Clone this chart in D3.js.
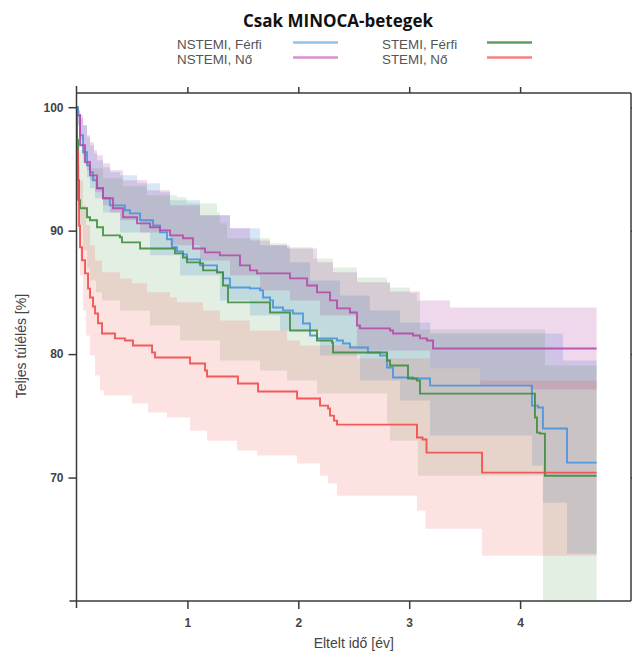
<!DOCTYPE html>
<html>
<head>
<meta charset="utf-8">
<script src="https://cdn.jsdelivr.net/npm/d3@7"></script>
<style>
  body { margin: 0; background: #fff; }
  svg { display: block; }
</style>
</head>
<body>
<svg id="chart" width="632" height="653"></svg>
<script>
// ---- data ----
var seriesNames = ["NSTEMI, Férfi", "NSTEMI, Nő", "STEMI, Férfi", "STEMI, Nő"];
var lineColors = ["#4a93dc", "#b64aa9", "#3f8d3f", "#f24a4a"];
var bandOpacity = [0.22, 0.22, 0.14, 0.16];
var legendColors = ["#92c2ec", "#d690cc", "#5f9f5f", "#f48282"];
var xTicks = [1, 2, 3, 4];
var yTicks = [70, 80, 90, 100];
var tEnd = 4.69;

// survival steps [time in years, %]
var nstemiFerfi = [[0,100],[0.014,99.35],[0.032,97.73],[0.059,96.35],[0.095,95.3],[0.122,94.73],[0.149,94.08],[0.185,93.43],[0.239,92.62],[0.302,92.05],[0.437,91.65],[0.482,91.4],[0.573,90.84],[0.69,90.43],[0.753,89.86],[0.816,89.3],[0.861,88.65],[0.906,88.32],[0.96,88.08],[0.996,87.67],[1.114,87.19],[1.267,86.62],[1.321,86.13],[1.384,85.4],[1.564,85.32],[1.655,85.16],[1.682,84.59],[1.745,84.35],[1.772,83.78],[1.862,83.54],[1.952,83.29],[2.042,82.48],[2.106,81.51],[2.169,81.27],[2.349,81.1],[2.403,80.86],[2.466,80.54],[2.628,80.13],[2.737,79.89],[2.8,78.91],[2.854,78.1],[3.034,78.02],[3.188,77.45],[4.107,75.83],[4.161,75.67],[4.206,73.97],[4.423,71.21]];
var nstemiNo = [[0,100],[0.005,99.35],[0.032,96.92],[0.077,95.54],[0.122,94.48],[0.185,93.43],[0.239,92.62],[0.329,91.81],[0.419,91.08],[0.546,90.59],[0.663,90.27],[0.753,90.02],[0.843,89.62],[0.96,89.38],[1.05,88.56],[1.159,88.24],[1.293,88.0],[1.474,87.19],[1.564,86.78],[1.628,86.54],[1.925,86.13],[2.079,85.56],[2.169,85.0],[2.286,84.35],[2.349,83.7],[2.466,83.37],[2.529,82.32],[2.556,82.08],[2.827,81.91],[2.854,81.67],[3.034,81.51],[3.097,81.27],[3.16,81.1],[3.215,80.45]];
var stemiFerfi = [[0,100],[0.005,97.32],[0.014,94.08],[0.023,92.46],[0.032,91.81],[0.095,91.08],[0.122,90.84],[0.185,90.27],[0.239,89.62],[0.392,89.46],[0.41,89.05],[0.573,88.56],[0.888,88.16],[0.96,87.83],[0.996,87.43],[1.114,87.35],[1.141,86.78],[1.267,86.62],[1.321,85.56],[1.366,84.19],[1.745,83.37],[1.925,81.91],[2.169,81.1],[2.304,80.94],[2.313,80.13],[2.8,79.48],[2.827,79.08],[2.989,78.02],[3.07,77.86],[3.097,76.8],[4.134,74.86],[4.152,73.64],[4.179,73.56],[4.224,70.15]];
var stemiNo = [[0,100],[0.005,96.5],[0.014,92.5],[0.023,90.4],[0.032,88.65],[0.05,87.6],[0.077,86.54],[0.104,85.3],[0.122,84.59],[0.149,83.86],[0.167,83.29],[0.194,82.5],[0.23,81.67],[0.347,81.27],[0.437,81.1],[0.509,80.7],[0.681,80.13],[0.708,79.72],[1.024,79.24],[1.159,78.67],[1.177,78.18],[1.456,77.62],[1.637,76.97],[1.989,76.4],[2.196,75.83],[2.268,75.59],[2.286,75.02],[2.322,74.61],[2.349,74.29],[3.07,73.24],[3.12,73.08],[3.156,72.02],[3.657,70.4]];

// confidence band bounds [time, %]
var nstemiFerfiHi = [[0,100],[0.014,99.76],[0.032,99.1],[0.059,98.54],[0.095,97.57],[0.122,96.92],[0.158,96.27],[0.185,95.7],[0.239,95.13],[0.302,94.73],[0.392,94.48],[0.546,93.84],[0.753,93.11],[0.843,92.46],[1.114,91.24],[1.384,90.19],[1.655,88.81],[1.925,87.43],[2.106,85.97],[2.376,84.75],[2.646,83.54],[2.917,82.56],[3.188,81.67],[4.387,79.48]];
var nstemiFerfiLo = [[0,100],[0.014,98.54],[0.032,96.92],[0.059,95.54],[0.095,94.32],[0.122,93.43],[0.167,92.62],[0.239,91.48],[0.392,89.86],[0.663,88.0],[0.933,86.37],[1.293,84.35],[1.564,83.13],[1.835,81.91],[2.196,79.89],[2.556,77.86],[2.917,76.24],[3.188,73.4],[4.107,70.97],[4.206,67.96],[4.423,63.83]];
var nstemiNoHi = [[0,100],[0.014,99.76],[0.032,99.35],[0.059,98.54],[0.095,97.73],[0.122,97.16],[0.158,96.51],[0.185,96.11],[0.239,95.46],[0.302,94.89],[0.419,94.08],[0.636,93.27],[0.843,92.05],[1.114,91.24],[1.384,90.19],[1.564,89.21],[1.745,88.81],[1.898,88.56],[2.169,87.43],[2.313,86.62],[2.529,85.82],[2.827,85.08],[3.097,84.35],[3.368,83.78]];
var nstemiNoLo = [[0,100],[0.014,98.54],[0.032,97.32],[0.059,96.11],[0.095,94.89],[0.122,94.08],[0.167,93.11],[0.239,92.05],[0.302,91.48],[0.392,90.84],[0.573,89.86],[0.843,88.81],[1.114,87.59],[1.384,86.37],[1.655,85.16],[1.925,84.35],[2.196,83.13],[2.529,80.29],[3.188,78.83],[3.639,77.45],[4.089,77.13]];
var stemiFerfiHi = [[0,100],[0.005,98.95],[0.014,97.73],[0.032,96.51],[0.077,95.7],[0.122,95.05],[0.239,94.24],[0.419,93.59],[0.636,92.86],[0.906,92.7],[0.996,92.21],[1.267,91.48],[1.293,90.59],[1.357,89.38],[1.745,88.97],[1.898,88.65],[2.133,87.75],[2.313,87.02],[2.529,86.21],[2.8,85.73],[2.827,85.4],[3.007,84.92],[3.07,84.35],[3.097,82.0],[4.224,79.08]];
var stemiFerfiLo = [[0,100],[0.005,96.51],[0.014,94.08],[0.023,92.05],[0.032,90.43],[0.059,88.4],[0.095,86.94],[0.122,85.97],[0.176,85.0],[0.23,84.35],[0.392,83.54],[0.663,82.32],[0.933,81.1],[1.293,79.48],[1.655,78.67],[1.898,77.86],[2.169,76.8],[2.8,74.37],[2.827,72.99],[3.079,70.15],[4.206,56]];
var stemiNoHi = [[0,100],[0.005,98.54],[0.014,96.92],[0.023,95.3],[0.032,94.08],[0.059,92.05],[0.086,90.43],[0.122,88.81],[0.167,87.59],[0.23,86.62],[0.392,86.13],[0.5,85.73],[0.636,85.0],[0.843,84.59],[0.906,84.19],[1.141,83.54],[1.293,82.73],[1.564,81.91],[1.898,81.1],[2.015,80.7],[2.529,79.65],[3.188,78.83],[3.639,77.86]];
var stemiNoLo = [[0,100],[0.005,94.89],[0.014,91.65],[0.023,88.81],[0.032,86.37],[0.059,83.54],[0.086,81.51],[0.122,79.89],[0.167,78.26],[0.212,77.05],[0.248,76.64],[0.5,75.99],[0.645,75.26],[0.816,74.86],[1.024,73.8],[1.177,72.99],[1.447,72.18],[1.628,71.78],[1.989,71.13],[2.196,70.15],[2.268,69.51],[2.349,68.53],[3.07,67.32],[3.147,65.86],[3.657,63.67]];

var curves = [nstemiFerfi, nstemiNo, stemiFerfi, stemiNo];
var bandsHi = [nstemiFerfiHi, nstemiNoHi, stemiFerfiHi, stemiNoHi];
var bandsLo = [nstemiFerfiLo, nstemiNoLo, stemiFerfiLo, stemiNoLo];

// ---- layout ----
var margin = {top: 93, right: 1, bottom: 52, left: 76.5};
var width = 632 - margin.left - margin.right;
var height = 653 - margin.top - margin.bottom;

var svg = d3.select('#chart');
var chart = svg.append('g')
  .attr('transform', 'translate(' + margin.left + ',' + margin.top + ')');

var x = d3.scaleLinear().domain([0, 5]).range([0, width]);
var y = d3.scaleLinear().domain([60, 101.15]).range([height, 0]);

chart.append('clipPath').attr('id', 'plotclip')
  .append('rect').attr('width', width).attr('height', height);

// step value of a curve at time t
function stepAt(arr, t) {
  var v = arr[0][1];
  arr.forEach(function(p) { if (p[0] <= t) v = p[1]; });
  return v;
}
// put hi and lo on shared times so they can form one area
function bandRows(hi, lo) {
  var times = hi.map(function(p) { return p[0]; }).concat(lo.map(function(p) { return p[0]; }), [tEnd]);
  times = Array.from(new Set(times)).sort(d3.ascending);
  return times.map(function(t) { return {t: t, hi: stepAt(hi, t), lo: stepAt(lo, t)}; });
}

var area = d3.area()
  .curve(d3.curveStepAfter)
  .x(function(d) { return x(d.t); })
  .y0(function(d) { return y(d.lo); })
  .y1(function(d) { return y(d.hi); });

var line = d3.line()
  .curve(d3.curveStepAfter)
  .x(function(d) { return x(d[0]); })
  .y(function(d) { return y(d[1]); });

var plot = chart.append('g').attr('clip-path', 'url(#plotclip)');

plot.selectAll('.band')
  .data(d3.range(4))
  .enter()
  .append('path')
  .attr('class', 'band')
  .attr('d', function(i) { return area(bandRows(bandsHi[i], bandsLo[i])); })
  .attr('fill', function(i) { return lineColors[i]; })
  .attr('fill-opacity', function(i) { return bandOpacity[i]; });

plot.selectAll('.km')
  .data(d3.range(4))
  .enter()
  .append('path')
  .attr('class', 'km')
  .attr('d', function(i) {
    var c = curves[i];
    return line(c.concat([[tEnd, c[c.length - 1][1]]]));
  })
  .attr('fill', 'none')
  .attr('stroke', function(i) { return lineColors[i]; })
  .attr('stroke-width', 1.9)
  .attr('stroke-opacity', 0.9);

// ---- axes ----
var axisColor = '#3a3a3a';

var yAxis = chart.append('g')
  .call(d3.axisLeft(y).tickValues(yTicks).tickSize(8).tickPadding(5));
var xAxis = chart.append('g')
  .attr('transform', 'translate(0,' + height + ')')
  .call(d3.axisBottom(x).tickValues(xTicks).tickFormat(d3.format('d')).tickSize(8).tickPadding(9));
var topAxis = chart.append('g')
  .call(d3.axisTop(x).tickValues(xTicks).tickSize(6).tickFormat(''));
var rightAxis = chart.append('g')
  .attr('transform', 'translate(' + width + ',0)')
  .call(d3.axisRight(y).tickValues(yTicks).tickSize(6).tickFormat(''));

[yAxis, xAxis, topAxis, rightAxis].forEach(function(a) {
  a.select('.domain').remove();
  a.selectAll('line').attr('stroke', axisColor).attr('stroke-width', 1.5);
  a.selectAll('text')
    .attr('fill', '#444')
    .style('font-family', '"Liberation Sans", Arial, sans-serif')
    .style('font-size', '12px')
    .style('font-weight', 'bold');
});

// frame, left and bottom lines run a bit past the corners
var frame = chart.append('g').attr('stroke', axisColor).attr('stroke-width', 1.5);
frame.append('line').attr('x1', 0).attr('x2', 0).attr('y1', -7).attr('y2', height + 7);
frame.append('line').attr('x1', -7).attr('x2', width).attr('y1', height).attr('y2', height);
frame.append('line').attr('x1', 0).attr('x2', width).attr('y1', 0).attr('y2', 0);
frame.append('line').attr('x1', width).attr('x2', width).attr('y1', 0).attr('y2', height);

// axis titles
chart.append('text')
  .attr('x', width / 2)
  .attr('y', height + 47)
  .attr('text-anchor', 'middle')
  .attr('fill', '#444')
  .style('font-family', '"Liberation Sans", Arial, sans-serif')
  .style('font-size', '14px')
  .text('Eltelt idő [év]');

chart.append('text')
  .attr('transform', 'translate(' + (-51) + ',' + (y(80) - 8) + ') rotate(-90)')
  .attr('text-anchor', 'middle')
  .attr('fill', '#444')
  .style('font-family', '"Liberation Sans", Arial, sans-serif')
  .style('font-size', '14px')
  .text('Teljes túlélés [%]');

// title
svg.append('text')
  .attr('x', 338)
  .attr('y', 27)
  .attr('text-anchor', 'middle')
  .attr('fill', '#111')
  .style('font-family', '"Open Sans", sans-serif')
  .style('font-size', '17px')
  .style('font-weight', 'bold')
  .text('Csak MINOCA-betegek');

// legend: two columns, two rows
var legendPos = [[177, 48.5], [177, 63.5], [382, 48.5], [382, 63.5]];
var swatchX = [293, 293, 487, 487];
var legend = svg.append('g').attr('class', 'legend');
seriesNames.forEach(function(name, i) {
  legend.append('text')
    .attr('x', legendPos[i][0])
    .attr('y', legendPos[i][1])
    .attr('fill', '#555')
    .style('font-family', '"Liberation Sans", Arial, sans-serif')
    .style('font-size', '13.4px')
    .text(name);
  legend.append('line')
    .attr('x1', swatchX[i])
    .attr('x2', swatchX[i] + 45)
    .attr('y1', legendPos[i][1] - 6)
    .attr('y2', legendPos[i][1] - 6)
    .attr('stroke', legendColors[i])
    .attr('stroke-width', 2.5);
});
</script>
</body>
</html>
